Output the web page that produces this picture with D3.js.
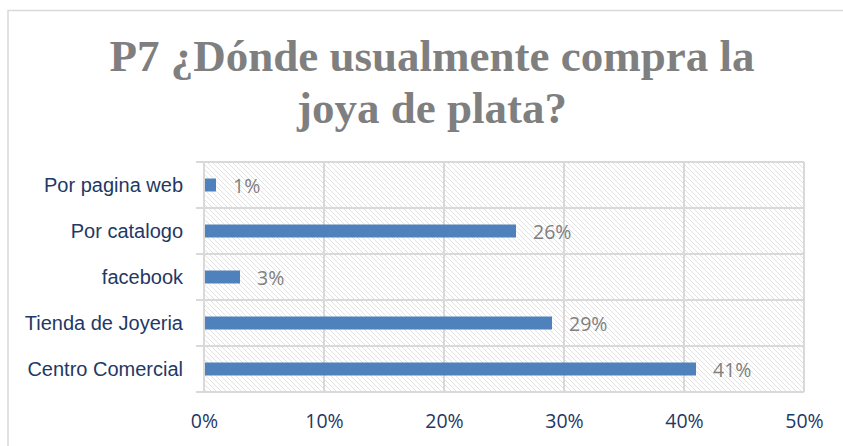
<!DOCTYPE html>
<html><head><meta charset="utf-8">
<script src="https://cdn.jsdelivr.net/npm/d3@7"></script>
<style>body{margin:0;background:#fff}svg{display:block}</style>
</head><body>
<script>
const categories = ["Por pagina web","Por catalogo","facebook","Tienda de Joyeria","Centro Comercial"];
const values = [0.01, 0.26, 0.03, 0.29, 0.41];
const valueLabels = ["1%","26%","3%","29%","41%"];
const xTicks = [0, 0.1, 0.2, 0.3, 0.4, 0.5];
const titleLines = ["P7 ¿Dónde usualmente compra la", "joya de plata?"];

const W = 843, H = 446;
const svg = d3.select("body").append("svg").attr("width", W).attr("height", H);

const defs = svg.append("defs");
const pat = defs.append("pattern").attr("id","hatch").attr("patternUnits","userSpaceOnUse")
  .attr("width",5).attr("height",5);
pat.append("path").attr("d","M-1,-1 L6,6 M-1,4 L1,6 M4,-1 L6,1")
  .attr("stroke","#e2e2e2").attr("stroke-width",1);

// outer chart border
svg.append("path").attr("d","M8,446 L8,10.5 L843,10.5").attr("fill","none")
  .attr("stroke","#d9d9d9").attr("stroke-width",1.5);

// title
svg.append("g").selectAll("text").data(titleLines).join("text")
  .attr("x", 432).attr("y",(d,i)=>71 + i*52)
  .attr("text-anchor","middle")
  .attr("font-family","'Liberation Serif', 'DejaVu Serif', serif")
  .attr("font-weight","bold").attr("font-size",45)
  .attr("fill","#7f7f7f").text(d=>d);

const x = d3.scaleLinear().domain([0,0.5]).range([204,804]);
const y = d3.scaleBand().domain(categories).range([162,392]);

// plot background hatch
svg.append("rect").attr("x",x(0)).attr("y",162).attr("width",x(0.5)-x(0)).attr("height",230)
  .attr("fill","url(#hatch)");

// horizontal separators
const hLines = categories.map(c=>y(c)).concat([392]);
svg.append("g").selectAll("line").data(hLines).join("line")
  .attr("x1",x(0)-8).attr("x2",x(0.5)).attr("y1",d=>d).attr("y2",d=>d)
  .attr("stroke","#d9d9d9").attr("stroke-width",2);

// vertical gridlines
svg.append("g").selectAll("line").data(xTicks).join("line")
  .attr("x1",d=>x(d)).attr("x2",d=>x(d)).attr("y1",162).attr("y2",392)
  .attr("stroke","#d9d9d9").attr("stroke-width",2);

// bars
const bh = 13;
svg.append("g").selectAll("rect").data(values).join("rect")
  .attr("x",x(0)+1).attr("y",(d,i)=>y(categories[i])+y.bandwidth()/2-bh/2)
  .attr("width",d=>x(d)-x(0)-1).attr("height",bh).attr("fill","#4f81bd");

// value labels
svg.append("g").selectAll("text").data(values).join("text")
  .attr("x",d=>x(d)+17).attr("y",(d,i)=>y(categories[i])+y.bandwidth()/2+8)
  .attr("font-family","'Open Sans','DejaVu Sans',sans-serif").attr("font-size",19.5)
  .attr("fill","#808080").text((d,i)=>valueLabels[i]);

// y axis labels
const yAxis = d3.axisLeft(y).tickSize(0).tickPadding(21);
const gy = svg.append("g").attr("transform",`translate(${x(0)},0)`).call(yAxis);
gy.select(".domain").remove();
gy.selectAll("text").attr("font-family","'Liberation Sans',Arial,sans-serif")
  .attr("font-size",20).attr("fill","#1f3864").attr("dy","0.35em");

// x axis labels
const xAxis = d3.axisBottom(x).tickValues(xTicks).tickFormat(d3.format(".0%")).tickSize(0).tickPadding(22);
const gx = svg.append("g").attr("transform","translate(0,392)").call(xAxis);
gx.select(".domain").remove();
gx.selectAll("text").attr("font-family","'Open Sans','DejaVu Sans',sans-serif")
  .attr("font-size",19.5).attr("fill","#1f3864");
</script>
</body></html>
